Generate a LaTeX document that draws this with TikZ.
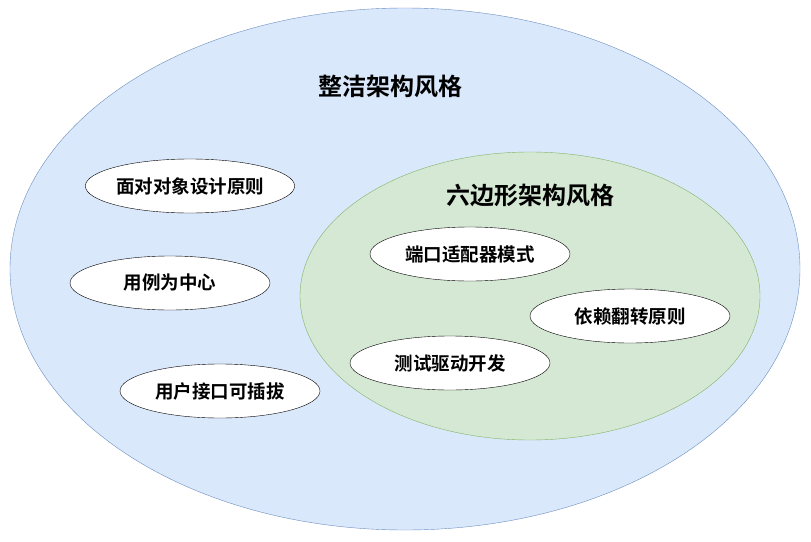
\documentclass[tikz,border=0pt]{standalone}
\usepackage{fontspec}
\setmainfont{Noto Sans CJK SC}
\newfontfamily\cjkbold{Noto Sans CJK SC Bold}
\usetikzlibrary{shapes.geometric}
\definecolor{outerfill}{HTML}{DAE8FC}
\definecolor{outerline}{HTML}{6C8EBF}
\definecolor{innerfill}{HTML}{D5E8D4}
\definecolor{innerline}{HTML}{82B366}
\tikzset{
	idea/.style = {ellipse, draw = black, fill = white, minimum width = 200pt, minimum height = 54pt, inner sep = 0pt, font = \cjkbold\fontsize{18.5pt}{21pt}\selectfont},
	title/.style = {font = \cjkbold\fontsize{24pt}{27pt}\selectfont}
}
\begin{document}
\begin{tikzpicture}[x = 1pt, y = -1pt]
	\useasboundingbox (0,0) rectangle (811,541);
	\draw[outerline, fill = outerfill] (405,269) ellipse (395pt and 261pt);
	\draw[innerline, fill = innerfill] (530,296) ellipse (230pt and 144pt);

	\node[title] (clean) at (390,86) {整洁架构风格};
	\node[title] (hexa) at (530,195) {六边形架构风格};

	\node[idea] (oop) at (190,186) {面对对象设计原则};
	\node[idea] (usecase) at (170,283) {用例为中心};
	\node[idea] (plug) at (220,391) {用户接口可插拔};

	\node[idea] (adapter) at (470,254) {端口适配器模式};
	\node[idea] (dip) at (630,316) {依赖翻转原则};
	\node[idea] (tdd) at (450,363) {测试驱动开发};
\end{tikzpicture}
\end{document}
